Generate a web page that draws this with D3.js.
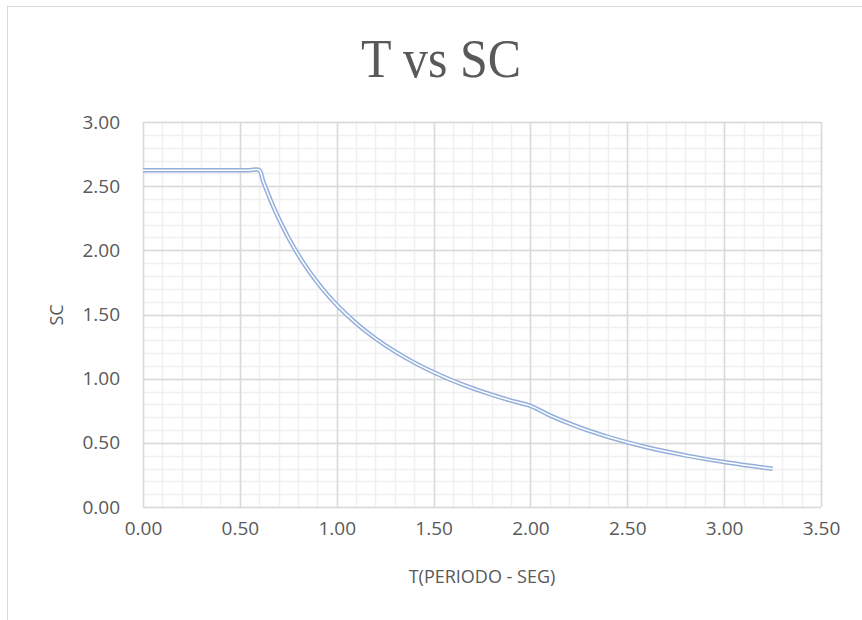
<!DOCTYPE html>
<html>
<head>
<meta charset="utf-8">
<script src="https://cdn.jsdelivr.net/npm/d3@7"></script>
<style>
  body { margin: 0; background: #fff; }
  svg { display: block; }
  .tick text { font-family: "Open Sans", sans-serif; fill: #595959; }
</style>
</head>
<body>
<svg id="chart" width="862" height="620"></svg>
<script>
// periodo T (s) y coeficiente SC
var periods = [0.00, 0.10, 0.20, 0.30, 0.40, 0.50, 0.55, 0.60, 0.62, 0.64, 0.66, 0.68, 0.70, 0.75,
               0.80, 0.85, 0.90, 0.95, 1.00, 1.10, 1.20, 1.30, 1.40, 1.50, 1.60, 1.70, 1.80, 1.90, 2.00,
               2.10, 2.20, 2.30, 2.40, 2.50, 2.60, 2.70, 2.80, 2.90, 3.00, 3.10, 3.20, 3.25];
var scValues = [2.625, 2.625, 2.625, 2.625, 2.625, 2.625, 2.625, 2.625, 2.540, 2.461, 2.386, 2.316, 2.250, 2.100,
                1.969, 1.853, 1.750, 1.658, 1.575, 1.432, 1.313, 1.212, 1.125, 1.050, 0.984, 0.926, 0.875, 0.829, 0.788,
                0.714, 0.651, 0.595, 0.547, 0.504, 0.466, 0.432, 0.402, 0.375, 0.350, 0.328, 0.308, 0.298];
var xTicks = [0, 0.5, 1, 1.5, 2, 2.5, 3, 3.5];
var yTicks = [0, 0.5, 1, 1.5, 2, 2.5, 3];

var svg = d3.select("#chart");

// borde del area del grafico (solo se ve arriba e izquierda)
svg.append("rect")
    .attr("x", 7.5).attr("y", 6.5)
    .attr("width", 900).attr("height", 700)
    .attr("fill", "#fff")
    .attr("stroke", "#d9d9d9");

var plotL = 143, plotR = 821, plotT = 122, plotB = 507;

var x = d3.scaleLinear().domain([0, 3.5]).range([plotL, plotR]);
var y = d3.scaleLinear().domain([0, 3]).range([plotB, plotT]);

var minorX = d3.range(0, 35.01, 1).map(function(d){ return d / 10; });
var minorY = d3.range(0, 30.01, 1).map(function(d){ return d / 10; });

// cuadricula menor
svg.append("g").selectAll("line").data(minorX).enter().append("line")
    .attr("x1", function(d){ return Math.round(x(d)) + 0.5; })
    .attr("x2", function(d){ return Math.round(x(d)) + 0.5; })
    .attr("y1", plotT).attr("y2", plotB)
    .attr("stroke", "#f0f0f0").attr("stroke-width", 1.5);
svg.append("g").selectAll("line").data(minorY).enter().append("line")
    .attr("y1", function(d){ return Math.round(y(d)) + 0.5; })
    .attr("y2", function(d){ return Math.round(y(d)) + 0.5; })
    .attr("x1", plotL).attr("x2", plotR)
    .attr("stroke", "#f0f0f0").attr("stroke-width", 1.5);

// cuadricula mayor
svg.append("g").selectAll("line").data(xTicks).enter().append("line")
    .attr("x1", function(d){ return Math.round(x(d)) + 0.5; })
    .attr("x2", function(d){ return Math.round(x(d)) + 0.5; })
    .attr("y1", plotT).attr("y2", plotB)
    .attr("stroke", "#d9d9d9").attr("stroke-width", 1.5);
svg.append("g").selectAll("line").data(yTicks).enter().append("line")
    .attr("y1", function(d){ return Math.round(y(d)) + 0.5; })
    .attr("y2", function(d){ return Math.round(y(d)) + 0.5; })
    .attr("x1", plotL).attr("x2", plotR)
    .attr("stroke", "#d9d9d9").attr("stroke-width", 1.5);

// ejes (solo etiquetas)
var xAxis = d3.axisBottom(x).tickValues(xTicks).tickSize(0).tickPadding(15)
    .tickFormat(d3.format(".2f"));
var yAxis = d3.axisLeft(y).tickValues(yTicks).tickSize(0).tickPadding(23)
    .tickFormat(d3.format(".2f"));

var gx = svg.append("g").attr("transform", "translate(0," + plotB + ")").call(xAxis);
var gy = svg.append("g").attr("transform", "translate(" + plotL + ",0)").call(yAxis);
gx.select(".domain").remove();
gy.select(".domain").remove();
gx.selectAll("text").style("font-size", "19px");
gy.selectAll("text").style("font-size", "19px");

// curva suavizada con doble linea
var data = periods.map(function(t, i){ return {t: t, sc: scValues[i]}; });
var line = d3.line()
    .x(function(d){ return x(d.t); })
    .y(function(d){ return y(d.sc); })
    .curve(d3.curveCatmullRom.alpha(0.5));

svg.append("path").datum(data)
    .attr("d", line)
    .attr("fill", "none")
    .attr("stroke", "#94afdc")
    .attr("stroke-width", 4.5)
    .attr("stroke-linejoin", "round");
svg.append("path").datum(data)
    .attr("d", line)
    .attr("fill", "none")
    .attr("stroke", "#fff")
    .attr("stroke-width", 1.5)
    .attr("stroke-linejoin", "round");

// titulos
svg.append("text")
    .attr("x", 441).attr("y", 77)
    .attr("text-anchor", "middle")
    .attr("textLength", 160)
    .attr("lengthAdjust", "spacingAndGlyphs")
    .style("font-family", "'Liberation Serif', serif")
    .style("font-size", "54px")
    .style("fill", "#595959")
    .text("T vs SC");

svg.append("text")
    .attr("x", 482).attr("y", 583)
    .attr("text-anchor", "middle")
    .style("font-family", "'Open Sans', sans-serif")
    .style("font-size", "18px")
    .style("fill", "#595959")
    .text("T(PERIODO - SEG)");

svg.append("text")
    .attr("transform", "translate(63,315) rotate(-90)")
    .attr("text-anchor", "middle")
    .style("font-family", "'Open Sans', sans-serif")
    .style("font-size", "18px")
    .style("fill", "#595959")
    .text("SC");
</script>
</body>
</html>
